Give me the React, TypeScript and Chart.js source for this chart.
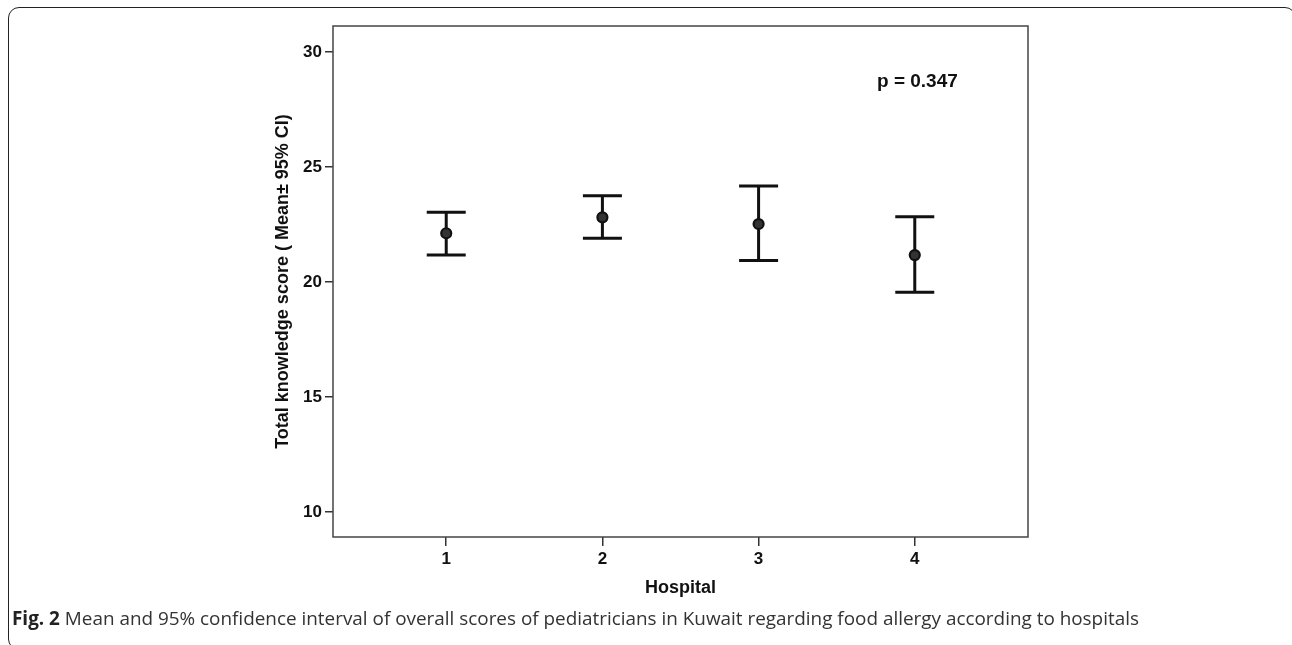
import React, { useEffect, useRef } from "react";
import { Chart, registerables } from "chart.js";

Chart.register(...registerables);

const hospitals = [1, 2, 3, 4];
const means = [22.12, 22.81, 22.52, 21.17];
const lowerCI = [21.17, 21.9, 20.93, 19.55];
const upperCI = [23.03, 23.75, 24.17, 22.84];
const yTicks = [10, 15, 20, 25, 30];
const pLabel = "p = 0.347";
const yTitle = "Total knowledge score ( Mean\u00b1 95% CI)";
const xTitle = "Hospital";

const errorBarPlugin = {
  id: "errorBars",
  beforeDatasetsDraw(chart: any) {
    const { ctx, scales } = chart;
    const xs = scales.x;
    const ys = scales.y;
    ctx.save();
    ctx.strokeStyle = "#111";
    ctx.lineWidth = 3;
    ctx.lineCap = "butt";
    hospitals.forEach((h, i) => {
      const x = xs.getPixelForValue(h);
      const yl = ys.getPixelForValue(lowerCI[i]);
      const yu = ys.getPixelForValue(upperCI[i]);
      ctx.beginPath();
      ctx.moveTo(x, yl);
      ctx.lineTo(x, yu);
      ctx.moveTo(x - 19.5, yu);
      ctx.lineTo(x + 19.5, yu);
      ctx.moveTo(x - 19.5, yl);
      ctx.lineTo(x + 19.5, yl);
      ctx.stroke();
    });
    ctx.restore();
  },
  afterDraw(chart: any) {
    const { ctx, chartArea } = chart;
    ctx.save();
    ctx.strokeStyle = "#444";
    ctx.lineWidth = 1.5;
    ctx.strokeRect(chartArea.left, chartArea.top, chartArea.right - chartArea.left, chartArea.bottom - chartArea.top);
    ctx.fillStyle = "#111";
    ctx.font = "bold 19px 'Liberation Sans', Arial, sans-serif";
    ctx.textBaseline = "middle";
    ctx.textAlign = "left";
    ctx.fillText(pLabel, 877, 82);
    ctx.restore();
  },
};

export default function App() {
  const ref = useRef<HTMLCanvasElement | null>(null);
  useEffect(() => {
    if (!ref.current) return;
    const tickFont = { family: "'Liberation Sans', Arial, sans-serif", size: 17, weight: "bold" as const };
    const chart = new Chart(ref.current, {
      type: "scatter",
      data: {
        datasets: [
          {
            data: hospitals.map((h, i) => ({ x: h, y: means[i] })),
            pointRadius: 5,
            pointBorderWidth: 2.2,
            pointBorderColor: "#111",
            pointBackgroundColor: "#333",
            showLine: false,
          },
        ],
      },
      options: {
        animation: false,
        responsive: false,
        maintainAspectRatio: false,
        layout: { padding: { left: 0, top: 26, right: 264, bottom: 0 } },
        plugins: { legend: { display: false }, tooltip: { enabled: false } },
        scales: {
          x: {
            type: "linear",
            min: 0.275,
            max: 4.725,
            afterBuildTicks: (s: any) => {
              s.ticks = hospitals.map((v) => ({ value: v }));
            },
            afterFit: (s: any) => {
              s.height = 108;
            },
            grid: { drawOnChartArea: false, drawTicks: true, tickLength: 9, color: "#333", lineWidth: 1.5 },
            border: { display: false },
            ticks: { color: "#111", font: tickFont, padding: 3, callback: (v: any) => String(v) },
            title: {
              display: true,
              text: xTitle,
              color: "#111",
              font: { family: "'Liberation Sans', Arial, sans-serif", size: 18, weight: "bold" },
              padding: { top: 0, bottom: 46 },
            },
          },
          y: {
            type: "linear",
            min: 8.913,
            max: 31.13,
            afterBuildTicks: (s: any) => {
              s.ticks = yTicks.map((v) => ({ value: v }));
            },
            afterFit: (s: any) => {
              s.width = 333;
            },
            grid: { drawOnChartArea: false, drawTicks: true, tickLength: 8, color: "#333", lineWidth: 1.5 },
            border: { display: false },
            ticks: { color: "#111", font: tickFont, padding: 3, callback: (v: any) => String(v) },
            title: {
              display: true,
              text: yTitle,
              color: "#111",
              font: { family: "'Liberation Sans', Arial, sans-serif", size: 18, weight: "bold" },
              padding: { top: 272, bottom: 0 },
            },
          },
        },
      },
      plugins: [errorBarPlugin],
    });
    return () => chart.destroy();
  }, []);

  return (
    <div style={{ position: "fixed", left: 0, top: 0, width: 1292, height: 645, overflow: "hidden", background: "#fff" }}>
      <div
        style={{
          position: "absolute",
          left: 8,
          top: 7,
          width: 1288,
          height: 643,
          border: "1.5px solid #222",
          borderRadius: 11,
          boxSizing: "border-box",
        }}
      />
      <canvas ref={ref} width={1292} height={645} style={{ position: "absolute", left: 0, top: 0, width: 1292, height: 645 }} />
      <div
        style={{
          position: "absolute",
          left: 12,
          top: 605,
          fontFamily: "'Open Sans', 'Noto Sans', sans-serif",
          fontSize: 18.9,
          lineHeight: "26px",
          color: "#333",
          whiteSpace: "nowrap",
        }}
      >
        <b style={{ color: "#222" }}>Fig. 2</b> Mean and 95% confidence interval of overall scores of pediatricians in Kuwait regarding food allergy according to hospitals
      </div>
    </div>
  );
}
